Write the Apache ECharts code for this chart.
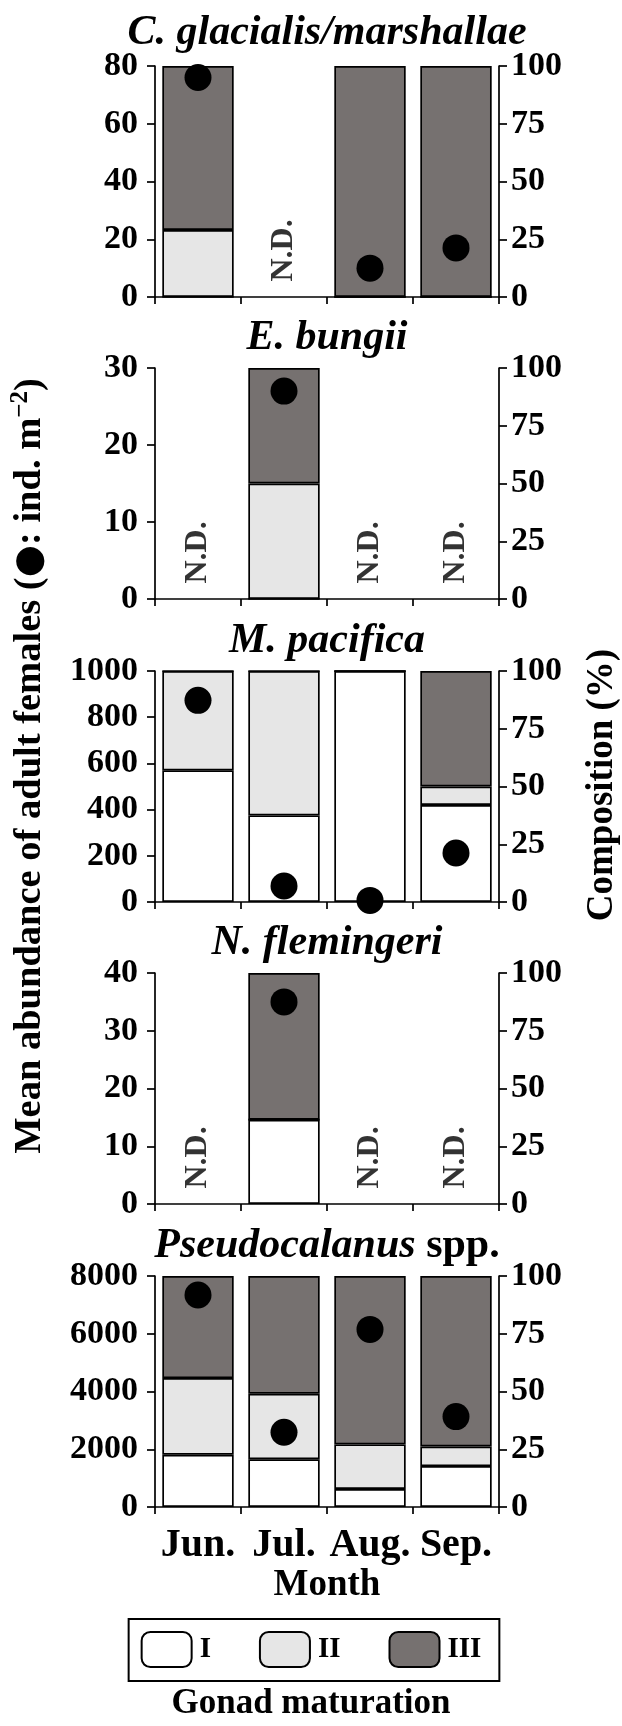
<!DOCTYPE html>
<html>
<head>
<meta charset="utf-8">
<script src="https://cdn.jsdelivr.net/npm/echarts@6/dist/echarts.min.js"></script>
<style>
  html, body { margin: 0; padding: 0; background: #ffffff; }
  #chart { width: 622px; height: 1726px; }
</style>
</head>
<body>
<div id="chart"></div>
<script>
// Sampling months and gonad maturation stages
const months = ['Jun.', 'Jul.', 'Aug.', 'Sep.'];
const stageNames = ['I', 'II', 'III'];

// Composition of gonad stages (%) and mean abundance of adult females (ind. m-2); null = no data
const cgStageI = [0, null, 0, 0];
const cgStageII = [29, null, 0, 0];
const cgStageIII = [71, null, 100, 100];
const cgAbundance = [76, null, 10, 17];

const ebStageI = [null, 0, null, null];
const ebStageII = [null, 50, null, null];
const ebStageIII = [null, 50, null, null];
const ebAbundance = [null, 27, null, null];

const mpStageI = [57, 37.5, 100, 42];
const mpStageII = [43, 62.5, 0, 8];
const mpStageIII = [0, 0, 0, 50];
const mpAbundance = [873, 69, 7, 212];

const nfStageI = [null, 36.5, null, null];
const nfStageII = [null, 0, null, null];
const nfStageIII = [null, 63.5, null, null];
const nfAbundance = [null, 35, null, null];

const psStageI = [22.6, 20.7, 7.8, 17.7];
const psStageII = [33.2, 28.3, 19.3, 8.5];
const psStageIII = [44.2, 51.0, 72.9, 73.8];
const psAbundance = [7340, 2590, 6150, 3130];

// Axis ranges
const abundanceMax = [80, 30, 1000, 40, 8000];
const abundanceStep = [20, 10, 200, 10, 2000];
const compositionMax = 100;
const compositionStep = 25;

const speciesTitles = [
  '{i|C. glacialis/marshallae}',
  '{i|E. bungii}',
  '{i|M. pacifica}',
  '{i|N. flemingeri}',
  '{i|Pseudocalanus} spp.'
];
const stages = [
  [cgStageI, cgStageII, cgStageIII],
  [ebStageI, ebStageII, ebStageIII],
  [mpStageI, mpStageII, mpStageIII],
  [nfStageI, nfStageII, nfStageIII],
  [psStageI, psStageII, psStageIII]
];
const abundance = [cgAbundance, ebAbundance, mpAbundance, nfAbundance, psAbundance];

// Layout and styling
const FONT = '"Liberation Serif", "Times New Roman", serif';
const stageColors = ['#ffffff', '#e6e6e6', '#767170'];
const gridTops = [66, 368, 671, 973, 1276];
const gridHeight = 231;
const gridLeft = 155;
const gridRight = 123;
const tickFont = 34;
const titleFont = 42;
const black = '#000000';
const lineW = 1.7;

const grids = [], xAxes = [], yAxes = [], series = [], titles = [];

gridTops.forEach((top, p) => {
  grids.push({ left: gridLeft, right: gridRight, top: top, height: gridHeight, containLabel: false });

  titles.push({
    text: speciesTitles[p],
    left: gridLeft + (622 - gridLeft - gridRight) / 2,
    textAlign: 'center',
    top: top - (p === 0 ? 55 : 52),
    padding: 0,
    textStyle: {
      fontFamily: FONT, fontSize: titleFont, fontWeight: 'bold', color: black, lineHeight: 44,
      rich: { i: { fontFamily: FONT, fontSize: titleFont, fontWeight: 'bold', fontStyle: 'italic', color: black, lineHeight: 44 } }
    }
  });

  const last = p === gridTops.length - 1;
  xAxes.push({
    type: 'category', gridIndex: p, data: months, boundaryGap: true,
    axisLine: { show: true, lineStyle: { color: black, width: lineW } },
    axisTick: { show: true, interval: 0, length: 7, lineStyle: { color: black, width: lineW } },
    axisLabel: {
      show: last, interval: 0, margin: 19,
      fontFamily: FONT, fontSize: 40, fontWeight: 'bold', color: black
    },
    name: last ? 'Month' : '',
    nameLocation: 'middle', nameGap: 60,
    nameTextStyle: { fontFamily: FONT, fontSize: 37, fontWeight: 'bold', color: black, lineHeight: 37 },
    splitLine: { show: false }
  });

  yAxes.push({
    type: 'value', gridIndex: p, position: 'left',
    min: 0, max: abundanceMax[p], interval: abundanceStep[p],
    axisLine: { show: true, lineStyle: { color: black, width: lineW } },
    axisTick: { show: true, length: 8, lineStyle: { color: black, width: lineW } },
    axisLabel: {
      margin: 17, fontFamily: FONT, fontSize: tickFont, fontWeight: 'bold', color: black,
      formatter: v => String(v)
    },
    splitLine: { show: false }
  });
  yAxes.push({
    type: 'value', gridIndex: p, position: 'right',
    min: 0, max: compositionMax, interval: compositionStep,
    axisLine: { show: true, lineStyle: { color: black, width: lineW } },
    axisTick: { show: true, length: 8, lineStyle: { color: black, width: lineW } },
    axisLabel: {
      margin: 12, fontFamily: FONT, fontSize: tickFont, fontWeight: 'bold', color: black,
      formatter: v => String(v)
    },
    splitLine: { show: false }
  });

  // Stacked composition bars on the right axis
  stages[p].forEach((values, s) => {
    series.push({
      type: 'bar', name: stageNames[s],
      xAxisIndex: p, yAxisIndex: 2 * p + 1,
      stack: 'composition' + p,
      barCategoryGap: '17%',
      data: values,
      itemStyle: { color: stageColors[s], borderColor: black, borderWidth: lineW },
      emphasis: { disabled: true },
      z: 2
    });
  });

  // Mean abundance dots on the left axis
  series.push({
    type: 'scatter', name: 'abundance',
    xAxisIndex: p, yAxisIndex: 2 * p,
    data: abundance[p],
    symbol: 'circle', symbolSize: 27,
    itemStyle: { color: black, opacity: 1 },
    emphasis: { disabled: true },
    z: 5
  });

  // "N.D." marks for months without data
  series.push({
    type: 'scatter', name: 'nd',
    xAxisIndex: p, yAxisIndex: 2 * p,
    data: abundance[p].map(v => (v === null ? 0 : null)),
    symbol: 'circle', symbolSize: 1,
    itemStyle: { color: 'rgba(0,0,0,0)' },
    label: {
      show: true, formatter: 'N.D.', position: 'top', distance: 15,
      rotate: 90, align: 'left', verticalAlign: 'middle',
      fontFamily: FONT, fontSize: 32, fontWeight: 'bold', color: black
    },
    emphasis: { disabled: true },
    z: 6
  });
});

titles.push({
  text: 'Gonad maturation',
  left: 'center', top: 1686, padding: 0,
  textStyle: { fontFamily: FONT, fontSize: 35, fontWeight: 'bold', color: black, lineHeight: 35 }
});

const option = {
  animation: false,
  backgroundColor: '#ffffff',
  title: titles,
  grid: grids,
  xAxis: xAxes,
  yAxis: yAxes,
  series: series,
  legend: {
    data: stageNames,
    left: 'center', top: 1619,
    orient: 'horizontal',
    itemWidth: 50, itemHeight: 35, itemGap: 48,
    padding: [12, 18, 13, 12],
    borderColor: black, borderWidth: 2,
    selectedMode: false,
    itemStyle: { borderWidth: 2 },
    textStyle: { fontFamily: FONT, fontSize: 29, fontWeight: 'bold', color: black, padding: [0, 0, 0, 3] }
  },
  graphic: [
    {
      type: 'text', x: 30, y: 766, rotation: Math.PI / 2,
      style: {
        text: '{t|Mean abundance of adult females (}{d|\u25CF}{t|: ind. m}{s|\u22122}{t|)}',
        align: 'center', verticalAlign: 'middle',
        rich: {
          t: { fontFamily: FONT, fontSize: 38.5, fontWeight: 'bold', fill: black, lineHeight: 44, verticalAlign: 'middle' },
          d: { fontFamily: '"DejaVu Sans", sans-serif', fontSize: 37, fill: black, lineHeight: 44, verticalAlign: 'middle' },
          s: { fontFamily: FONT, fontSize: 25, fontWeight: 'bold', fill: black, lineHeight: 30, verticalAlign: 'top' }
        }
      }
    },
    {
      type: 'text', x: 602, y: 785, rotation: Math.PI / 2,
      style: {
        text: 'Composition (%)',
        font: 'bold 37px ' + FONT,
        fill: black, align: 'center', verticalAlign: 'middle'
      }
    }
  ]
};

const chart = echarts.init(document.getElementById('chart'), null, { renderer: 'canvas' });
chart.setOption(option);
</script>
</body>
</html>
